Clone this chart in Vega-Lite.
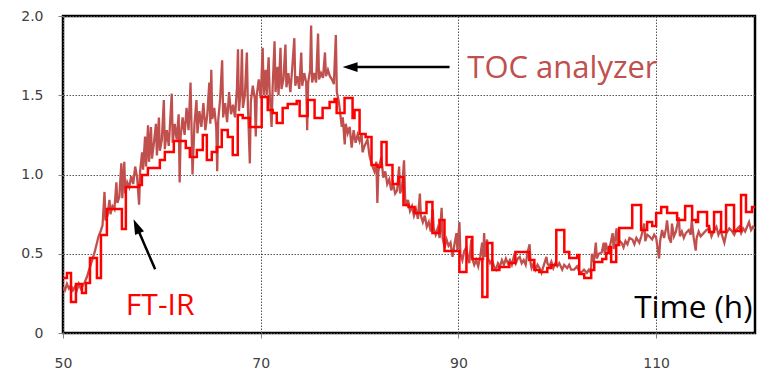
{
  "$schema": "https://vega.github.io/schema/vega-lite/v6.json",
  "width": 692,
  "height": 317,
  "autosize": {"type": "none"},
  "padding": {"left": 63, "top": 16, "right": 7, "bottom": 36},
  "background": "white",
  "config": {
    "view": {"stroke": "#000000", "strokeWidth": 2.5},
    "axis": {
      "domain": false,
      "grid": true,
      "gridColor": "#555555",
      "gridDash": [1.5, 1.5],
      "gridWidth": 1,
      "tickColor": "#808080",
      "tickSize": 5,
      "labelFont": "DejaVu Sans",
      "labelFontSize": 14,
      "labelColor": "#404040",
      "labelFlush": false,
      "labelOverlap": false,
      "title": null
    }
  },
  "datasets": {
    "toc": [
      {"t":50.0,"v":0.29},{"t":50.2,"v":0.27},{"t":50.4,"v":0.31},{"t":50.6,"v":0.28},{"t":50.8,"v":0.30},{"t":51.0,"v":0.27},{"t":51.2,"v":0.29},{"t":51.4,"v":0.27},{"t":51.6,"v":0.31},{"t":51.8,"v":0.28},
      {"t":52.0,"v":0.30},{"t":52.2,"v":0.32},{"t":52.4,"v":0.35},{"t":52.6,"v":0.39},{"t":52.8,"v":0.43},{"t":53.0,"v":0.47},{"t":53.2,"v":0.51},{"t":53.4,"v":0.56},{"t":53.6,"v":0.61},{"t":53.8,"v":0.64},
      {"t":54.0,"v":0.68},{"t":54.2,"v":0.89},{"t":54.3,"v":0.71},{"t":54.5,"v":0.74},{"t":54.7,"v":0.84},{"t":54.8,"v":0.75},{"t":55.0,"v":0.80},{"t":55.2,"v":0.78},{"t":55.4,"v":0.95},{"t":55.5,"v":0.82},
      {"t":55.7,"v":0.86},{"t":55.9,"v":1.07},{"t":56.0,"v":0.85},{"t":56.2,"v":1.08},{"t":56.3,"v":0.88},{"t":56.5,"v":0.95},{"t":56.7,"v":0.92},{"t":56.9,"v":0.99},{"t":57.1,"v":0.94},{"t":57.3,"v":1.05},
      {"t":57.5,"v":0.98},{"t":57.7,"v":0.81},{"t":57.8,"v":1.02},{"t":58.0,"v":1.14},{"t":58.1,"v":1.03},{"t":58.3,"v":1.24},{"t":58.4,"v":1.05},{"t":58.6,"v":1.31},{"t":58.7,"v":1.08},{"t":58.9,"v":1.30},
      {"t":59.0,"v":1.10},{"t":59.2,"v":1.20},{"t":59.4,"v":1.32},{"t":59.5,"v":1.12},{"t":59.7,"v":1.36},{"t":59.8,"v":1.15},{"t":60.0,"v":1.22},{"t":60.2,"v":1.47},{"t":60.3,"v":1.16},{"t":60.5,"v":1.28},
      {"t":60.7,"v":1.18},{"t":60.9,"v":1.40},{"t":61.0,"v":1.51},{"t":61.1,"v":1.20},{"t":61.3,"v":1.32},{"t":61.5,"v":1.22},{"t":61.7,"v":1.38},{"t":61.8,"v":0.95},{"t":61.9,"v":1.24},{"t":62.1,"v":1.36},
      {"t":62.3,"v":1.25},{"t":62.5,"v":1.42},{"t":62.7,"v":1.28},{"t":62.9,"v":1.58},{"t":63.0,"v":1.30},{"t":63.1,"v":1.00},{"t":63.3,"v":1.32},{"t":63.5,"v":1.47},{"t":63.6,"v":1.26},{"t":63.8,"v":1.40},
      {"t":64.0,"v":1.30},{"t":64.2,"v":1.45},{"t":64.4,"v":1.28},{"t":64.6,"v":1.38},{"t":64.8,"v":1.58},{"t":64.9,"v":1.32},{"t":65.0,"v":1.66},{"t":65.1,"v":1.35},{"t":65.3,"v":1.42},{"t":65.5,"v":1.30},
      {"t":65.6,"v":1.02},{"t":65.7,"v":1.34},{"t":65.9,"v":1.48},{"t":66.1,"v":1.72},{"t":66.2,"v":1.36},{"t":66.4,"v":1.45},{"t":66.6,"v":1.33},{"t":66.8,"v":1.52},{"t":67.0,"v":1.38},{"t":67.2,"v":1.44},
      {"t":67.4,"v":1.36},{"t":67.6,"v":1.55},{"t":67.7,"v":1.79},{"t":67.8,"v":1.40},{"t":68.0,"v":1.55},{"t":68.1,"v":1.79},{"t":68.2,"v":1.42},{"t":68.4,"v":1.50},{"t":68.6,"v":1.77},{"t":68.7,"v":1.44},
      {"t":68.9,"v":1.07},{"t":69.0,"v":1.46},{"t":69.2,"v":1.56},{"t":69.4,"v":1.48},{"t":69.5,"v":1.24},{"t":69.6,"v":1.50},{"t":69.8,"v":1.60},{"t":70.0,"v":1.48},{"t":70.2,"v":1.80},{"t":70.3,"v":1.50},
      {"t":70.5,"v":1.66},{"t":70.6,"v":1.50},{"t":70.8,"v":1.74},{"t":70.9,"v":1.52},{"t":71.1,"v":1.30},{"t":71.2,"v":1.54},{"t":71.4,"v":1.84},{"t":71.5,"v":1.52},{"t":71.7,"v":1.68},{"t":71.8,"v":1.50},
      {"t":72.0,"v":1.80},{"t":72.1,"v":1.54},{"t":72.3,"v":1.60},{"t":72.5,"v":1.82},{"t":72.6,"v":1.55},{"t":72.8,"v":1.64},{"t":73.0,"v":1.52},{"t":73.2,"v":1.68},{"t":73.4,"v":1.86},{"t":73.5,"v":1.56},
      {"t":73.7,"v":1.62},{"t":73.9,"v":1.54},{"t":74.1,"v":1.77},{"t":74.2,"v":1.56},{"t":74.4,"v":1.64},{"t":74.6,"v":1.58},{"t":74.7,"v":1.28},{"t":74.8,"v":1.58},{"t":75.0,"v":1.66},{"t":75.1,"v":1.94},
      {"t":75.2,"v":1.58},{"t":75.4,"v":1.64},{"t":75.6,"v":1.58},{"t":75.8,"v":1.89},{"t":75.9,"v":1.60},{"t":76.1,"v":1.64},{"t":76.3,"v":1.61},{"t":76.5,"v":1.77},{"t":76.6,"v":1.62},{"t":76.8,"v":1.66},
      {"t":77.0,"v":1.62},{"t":77.2,"v":1.60},{"t":77.4,"v":1.57},{"t":77.6,"v":1.88},{"t":77.7,"v":1.52},{"t":77.9,"v":1.46},{"t":78.0,"v":1.41},{"t":78.2,"v":1.30},{"t":78.3,"v":1.36},{"t":78.5,"v":1.19},
      {"t":78.6,"v":1.32},{"t":78.8,"v":1.26},{"t":79.0,"v":1.30},{"t":79.2,"v":1.17},{"t":79.4,"v":1.28},{"t":79.6,"v":1.20},{"t":79.8,"v":1.25},{"t":80.0,"v":1.21},{"t":80.2,"v":1.26},{"t":80.3,"v":1.14},
      {"t":80.5,"v":1.18},{"t":80.8,"v":1.22},{"t":81.0,"v":1.12},{"t":81.2,"v":1.07},{"t":81.5,"v":1.02},{"t":81.7,"v":1.08},{"t":81.8,"v":0.82},{"t":81.9,"v":1.02},{"t":82.2,"v":1.11},{"t":82.4,"v":0.98},
      {"t":82.6,"v":1.02},{"t":82.8,"v":0.94},{"t":83.0,"v":0.97},{"t":83.2,"v":0.90},{"t":83.4,"v":0.94},{"t":83.6,"v":0.88},{"t":83.8,"v":0.90},{"t":84.0,"v":1.05},{"t":84.1,"v":0.88},{"t":84.3,"v":0.92},
      {"t":84.5,"v":1.09},{"t":84.6,"v":0.86},{"t":84.7,"v":0.80},{"t":84.9,"v":0.84},{"t":85.1,"v":0.77},{"t":85.3,"v":0.80},{"t":85.5,"v":0.74},{"t":85.7,"v":0.78},{"t":85.9,"v":0.72},{"t":86.1,"v":0.88},
      {"t":86.2,"v":0.74},{"t":86.4,"v":0.70},{"t":86.6,"v":0.74},{"t":86.8,"v":0.67},{"t":87.0,"v":0.70},{"t":87.2,"v":0.64},{"t":87.4,"v":0.78},{"t":87.5,"v":0.66},{"t":87.7,"v":0.62},{"t":87.9,"v":0.66},
      {"t":88.1,"v":0.60},{"t":88.3,"v":0.79},{"t":88.4,"v":0.60},{"t":88.6,"v":0.54},{"t":88.8,"v":0.59},{"t":89.0,"v":0.55},{"t":89.2,"v":0.57},{"t":89.4,"v":0.48},{"t":89.6,"v":0.56},{"t":89.8,"v":0.63},
      {"t":89.9,"v":0.52},{"t":90.1,"v":0.70},{"t":90.2,"v":0.50},{"t":90.4,"v":0.46},{"t":90.6,"v":0.52},{"t":90.8,"v":0.54},{"t":91.0,"v":0.46},{"t":91.1,"v":0.44},{"t":91.3,"v":0.59},{"t":91.4,"v":0.47},
      {"t":91.6,"v":0.43},{"t":91.8,"v":0.46},{"t":92.0,"v":0.42},{"t":92.2,"v":0.48},{"t":92.4,"v":0.57},{"t":92.5,"v":0.46},{"t":92.6,"v":0.63},{"t":92.7,"v":0.48},{"t":92.9,"v":0.59},{"t":93.0,"v":0.47},
      {"t":93.2,"v":0.44},{"t":93.4,"v":0.46},{"t":93.6,"v":0.42},{"t":93.8,"v":0.40},{"t":94.0,"v":0.44},{"t":94.2,"v":0.42},{"t":94.4,"v":0.46},{"t":94.6,"v":0.43},{"t":94.8,"v":0.47},{"t":95.0,"v":0.44},
      {"t":95.2,"v":0.46},{"t":95.4,"v":0.43},{"t":95.6,"v":0.48},{"t":95.8,"v":0.44},{"t":96.0,"v":0.47},{"t":96.2,"v":0.48},{"t":96.4,"v":0.44},{"t":96.6,"v":0.46},{"t":96.8,"v":0.43},{"t":97.0,"v":0.51},
      {"t":97.2,"v":0.56},{"t":97.3,"v":0.44},{"t":97.4,"v":0.41},{"t":97.6,"v":0.44},{"t":97.8,"v":0.40},{"t":98.0,"v":0.43},{"t":98.2,"v":0.41},{"t":98.4,"v":0.38},{"t":98.6,"v":0.42},{"t":98.9,"v":0.48},
      {"t":99.0,"v":0.44},{"t":99.2,"v":0.42},{"t":99.4,"v":0.45},{"t":99.6,"v":0.41},{"t":99.8,"v":0.44},{"t":100.0,"v":0.42},{"t":100.2,"v":0.44},{"t":100.5,"v":0.40},{"t":100.7,"v":0.43},{"t":101.0,"v":0.41},
      {"t":101.2,"v":0.43},{"t":101.4,"v":0.40},{"t":101.7,"v":0.40},{"t":102.0,"v":0.42},{"t":102.2,"v":0.39},{"t":102.4,"v":0.38},{"t":102.7,"v":0.40},{"t":103.0,"v":0.38},{"t":103.2,"v":0.40},{"t":103.4,"v":0.38},
      {"t":103.5,"v":0.50},{"t":103.7,"v":0.45},{"t":103.9,"v":0.57},{"t":104.0,"v":0.47},{"t":104.2,"v":0.50},{"t":104.5,"v":0.51},{"t":104.7,"v":0.57},{"t":104.8,"v":0.50},{"t":104.9,"v":0.57},{"t":105.1,"v":0.52},
      {"t":105.3,"v":0.54},{"t":105.6,"v":0.63},{"t":105.7,"v":0.53},{"t":106.0,"v":0.66},{"t":106.1,"v":0.55},{"t":106.3,"v":0.58},{"t":106.5,"v":0.57},{"t":106.7,"v":0.54},{"t":106.9,"v":0.58},{"t":107.1,"v":0.56},
      {"t":107.3,"v":0.60},{"t":107.6,"v":0.59},{"t":107.8,"v":0.56},{"t":108.0,"v":0.60},{"t":108.3,"v":0.57},{"t":108.5,"v":0.61},{"t":108.8,"v":0.69},{"t":108.9,"v":0.58},{"t":109.1,"v":0.62},{"t":109.3,"v":0.61},
      {"t":109.6,"v":0.59},{"t":109.8,"v":0.62},{"t":110.0,"v":0.60},{"t":110.3,"v":0.47},{"t":110.4,"v":0.58},{"t":110.6,"v":0.65},{"t":110.8,"v":0.60},{"t":111.0,"v":0.66},{"t":111.1,"v":0.71},{"t":111.3,"v":0.60},
      {"t":111.5,"v":0.57},{"t":111.6,"v":0.69},{"t":111.8,"v":0.61},{"t":112.0,"v":0.64},{"t":112.3,"v":0.73},{"t":112.4,"v":0.61},{"t":112.6,"v":0.64},{"t":112.8,"v":0.60},{"t":113.0,"v":0.63},{"t":113.3,"v":0.65},
      {"t":113.5,"v":0.62},{"t":113.6,"v":0.71},{"t":113.8,"v":0.60},{"t":114.0,"v":0.52},{"t":114.1,"v":0.60},{"t":114.3,"v":0.64},{"t":114.5,"v":0.61},{"t":114.8,"v":0.63},{"t":115.1,"v":0.65},{"t":115.4,"v":0.66},
      {"t":115.6,"v":0.61},{"t":115.8,"v":0.64},{"t":116.1,"v":0.67},{"t":116.3,"v":0.62},{"t":116.5,"v":0.65},{"t":116.7,"v":0.61},{"t":116.9,"v":0.57},{"t":117.1,"v":0.63},{"t":117.4,"v":0.66},{"t":117.7,"v":0.64},
      {"t":117.9,"v":0.62},{"t":118.1,"v":0.65},{"t":118.4,"v":0.67},{"t":118.6,"v":0.63},{"t":118.8,"v":0.66},{"t":119.0,"v":0.64},{"t":119.2,"v":0.67},{"t":119.4,"v":0.70},{"t":119.6,"v":0.65},{"t":119.8,"v":0.67},
      {"t":120.0,"v":0.66}
    ],
    "ftir": [
      {"t":50.0,"v":0.347},{"t":50.4,"v":0.379},{"t":50.81,"v":0.196},{"t":51.31,"v":0.309},{"t":51.92,"v":0.252},{"t":52.32,"v":0.315},{"t":52.73,"v":0.473},{"t":53.43,"v":0.347},{"t":53.84,"v":0.618},{"t":54.44,"v":0.782},
      {"t":55.96,"v":0.656},{"t":56.36,"v":0.921},{"t":57.68,"v":0.934},{"t":57.98,"v":0.997},{"t":58.59,"v":1.041},{"t":59.8,"v":1.091},{"t":60.3,"v":1.142},{"t":61.21,"v":1.211},{"t":62.42,"v":1.167},{"t":62.83,"v":1.11},
      {"t":63.54,"v":1.155},{"t":64.14,"v":1.249},{"t":64.55,"v":1.091},{"t":65.05,"v":1.142},{"t":65.56,"v":1.174},{"t":66.06,"v":1.281},{"t":66.67,"v":1.237},{"t":67.17,"v":1.123},{"t":67.68,"v":1.375},{"t":68.18,"v":1.356},
      {"t":68.89,"v":1.3},{"t":70.1,"v":1.489},{"t":70.71,"v":1.407},{"t":71.21,"v":1.388},{"t":71.62,"v":1.325},{"t":72.22,"v":1.42},{"t":72.73,"v":1.445},{"t":73.64,"v":1.464},{"t":73.94,"v":1.369},{"t":74.75,"v":1.47},
      {"t":75.45,"v":1.356},{"t":76.26,"v":1.42},{"t":76.97,"v":1.457},{"t":77.47,"v":1.476},{"t":77.68,"v":1.388},{"t":78.48,"v":1.483},{"t":79.29,"v":1.356},{"t":79.49,"v":1.407},{"t":80.0,"v":1.256},{"t":80.61,"v":1.237},
      {"t":81.21,"v":1.06},{"t":81.82,"v":1.047},{"t":82.22,"v":1.205},{"t":82.73,"v":1.06},{"t":83.33,"v":0.94},{"t":83.94,"v":0.984},{"t":84.44,"v":0.808},{"t":84.95,"v":0.795},{"t":85.56,"v":0.757},{"t":86.77,"v":0.826},
      {"t":87.37,"v":0.631},{"t":88.08,"v":0.713},{"t":88.59,"v":0.517},{"t":90.1,"v":0.385},{"t":90.81,"v":0.606},{"t":91.41,"v":0.467},{"t":92.42,"v":0.227},{"t":92.93,"v":0.568},{"t":93.43,"v":0.397},{"t":94.14,"v":0.416},
      {"t":95.15,"v":0.442},{"t":95.76,"v":0.511},{"t":97.17,"v":0.461},{"t":97.68,"v":0.397},{"t":98.18,"v":0.385},{"t":98.99,"v":0.41},{"t":99.39,"v":0.429},{"t":99.9,"v":0.65},{"t":100.71,"v":0.511},{"t":101.21,"v":0.473},
      {"t":102.02,"v":0.492},{"t":102.22,"v":0.372},{"t":102.73,"v":0.347},{"t":103.43,"v":0.397},{"t":103.74,"v":0.448},{"t":104.55,"v":0.467},{"t":104.95,"v":0.505},{"t":105.25,"v":0.543},{"t":105.45,"v":0.448},{"t":105.96,"v":0.555},
      {"t":106.26,"v":0.662},{"t":107.58,"v":0.808},{"t":108.48,"v":0.65},{"t":109.09,"v":0.7},{"t":109.6,"v":0.675},{"t":110.0,"v":0.757},{"t":110.51,"v":0.795},{"t":111.11,"v":0.757},{"t":112.12,"v":0.713},{"t":112.93,"v":0.801},
      {"t":113.64,"v":0.713},{"t":114.04,"v":0.7},{"t":114.24,"v":0.763},{"t":115.15,"v":0.675},{"t":115.35,"v":0.637},{"t":115.86,"v":0.763},{"t":116.57,"v":0.637},{"t":117.07,"v":0.808},{"t":117.88,"v":0.644},{"t":118.59,"v":0.871},
      {"t":119.09,"v":0.763},{"t":119.7,"v":0.795},{"t":120.0,"v":0.795}
    ]
  },
  "encoding": {
    "x": {
      "field": "t", "type": "quantitative",
      "scale": {"domain": [50, 120], "nice": false, "zero": false},
      "axis": {"values": [50, 70, 90, 110], "format": "d", "labelPadding": 18}
    },
    "y": {
      "field": "v", "type": "quantitative",
      "scale": {"domain": [0, 2], "nice": false},
      "axis": {"values": [0, 0.5, 1, 1.5, 2], "labelExpr": "datum.value == 0 ? '0' : format(datum.value, '.1f')", "labelPadding": 15}
    }
  },
  "layer": [
    {
      "data": {"name": "toc"},
      "mark": {"type": "line", "color": "#C0504D", "strokeWidth": 2.3, "interpolate": "linear", "clip": true}
    },
    {
      "data": {"name": "ftir"},
      "mark": {"type": "line", "color": "#FF0000", "strokeWidth": 2.5, "interpolate": "step-after", "clip": true}
    },
    {
      "data": {"values": [
        {"t": 79.0, "v": 1.678, "t2": 89.1, "v2": 1.678},
        {"t": 57.44, "v": 0.674, "t2": 59.32, "v2": 0.402}
      ]},
      "mark": {"type": "rule", "color": "#000000", "strokeWidth": 2.5},
      "encoding": {
        "x2": {"field": "t2"},
        "y2": {"field": "v2"}
      }
    },
    {
      "data": {"values": [{"t": 79.04, "v": 1.678}]},
      "mark": {"type": "point", "shape": "M -1 0 L 1 -0.65 L 1 0.65 Z", "size": 225, "filled": true, "color": "#000000", "opacity": 1, "angle": 0}
    },
    {
      "data": {"values": [{"t": 57.44, "v": 0.674}]},
      "mark": {"type": "point", "shape": "M -1 0 L 1 -0.65 L 1 0.65 Z", "size": 225, "filled": true, "color": "#000000", "opacity": 1, "angle": 66.7}
    },
    {
      "data": {"values": [{"t": 90.9, "v": 1.609, "label": "TOC analyzer"}]},
      "mark": {"type": "text", "font": "Open Sans", "fontSize": 31, "color": "#C0504D", "align": "left", "baseline": "alphabetic"},
      "encoding": {"text": {"field": "label"}}
    },
    {
      "data": {"values": [{"t": 56.36, "v": 0.114, "label": "FT-IR"}]},
      "mark": {"type": "text", "font": "Open Sans", "fontSize": 30, "color": "#FF0000", "align": "left", "baseline": "alphabetic"},
      "encoding": {"text": {"field": "label"}}
    },
    {
      "data": {"values": [{"t": 107.78, "v": 0.095, "label": "Time (h)"}]},
      "mark": {"type": "text", "font": "Open Sans", "fontSize": 31.5, "color": "#000000", "align": "left", "baseline": "alphabetic"},
      "encoding": {"text": {"field": "label"}}
    }
  ]
}
